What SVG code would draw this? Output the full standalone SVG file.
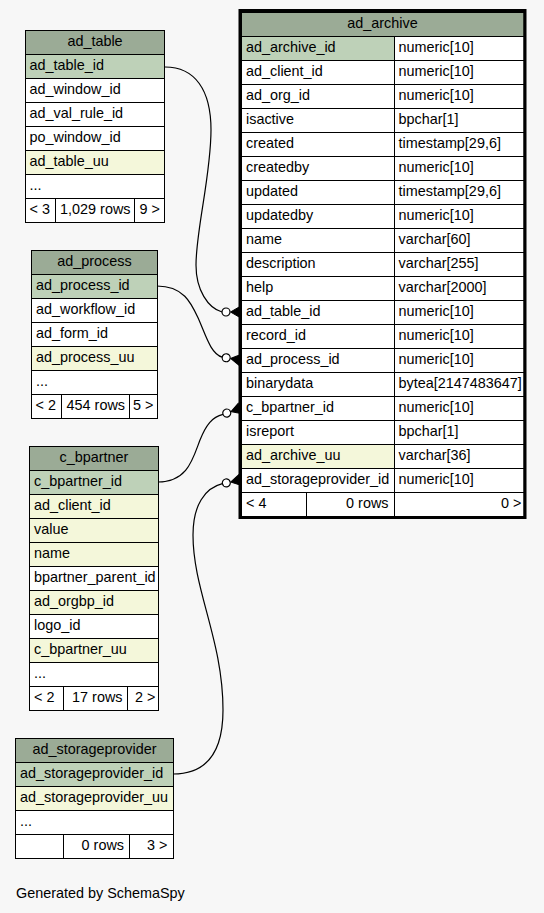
<svg xmlns="http://www.w3.org/2000/svg" xmlns:xlink="http://www.w3.org/1999/xlink" width="544" height="913" viewBox="0 0 544 913">
<defs>
<style>
text{font-family:"Liberation Sans",Arial,sans-serif;font-size:14.4px;fill:#000}
.c{stroke:#000;stroke-width:1}
.h{fill:#9bab96}
.pk{fill:#bed1b8}
.ix{fill:#f4f7da}
.w{fill:#ffffff}
.m{text-anchor:middle}
.e{text-anchor:end}
.edge{fill:none;stroke:#000;stroke-width:1.2}
</style>
<g id="crowodot">
<polygon points="0,-5.5 -9.5,0 0,5.5" fill="#000" stroke="#000" stroke-width="1"/>
<circle cx="-14" cy="0" r="4" fill="#fff" stroke="#000" stroke-width="1.2"/>
</g>
</defs>
<rect width="544" height="913" fill="#f7f7f7"/>

<g id="connectors">
<path class="edge" d="M165,67 C195,67 211,90 211,130 C211,175 196,230 196,265 C196,290 208,308 222,312"/>
<use xlink:href="#crowodot" transform="translate(240,312)"/>
<path class="edge" d="M157,286 C185,286 192,305 199,320 C206,336 211,354 222.2,357.1"/>
<use xlink:href="#crowodot" transform="translate(240,360) rotate(9.3)"/>
<path class="edge" d="M158,482 C188,482 193,458 200,440 C206,425 212,417 223,414.4"/>
<use xlink:href="#crowodot" transform="translate(240,408.5) rotate(-19)"/>
<path class="edge" d="M173,774 C205,774 223,755 223,710 C223,640 193,590 193,535 C193,505 205,488 222.4,483.7"/>
<use xlink:href="#crowodot" transform="translate(240,480) rotate(-12)"/>
</g>

<g id="ad_table">
<rect class="c h" x="25.5" y="30.5" width="139" height="24"/><text class="m" x="95" y="46">ad_table</text>
<rect class="c pk" x="25.5" y="54.5" width="139" height="24"/><text x="29.5" y="70">ad_table_id</text>
<rect class="c w" x="25.5" y="78.5" width="139" height="24"/><text x="29.5" y="94">ad_window_id</text>
<rect class="c w" x="25.5" y="102.5" width="139" height="24"/><text x="29.5" y="118">ad_val_rule_id</text>
<rect class="c w" x="25.5" y="126.5" width="139" height="24"/><text x="29.5" y="142">po_window_id</text>
<rect class="c ix" x="25.5" y="150.5" width="139" height="24"/><text x="29.5" y="166">ad_table_uu</text>
<rect class="c w" x="25.5" y="174.5" width="139" height="24"/><text x="29.5" y="190">...</text>
<rect class="c w" x="25.5" y="198.5" width="30" height="24"/><text x="29.5" y="214">&lt; 3</text>
<rect class="c w" x="55.5" y="198.5" width="79" height="24"/><text class="e" x="130.5" y="214">1,029 rows</text>
<rect class="c w" x="134.5" y="198.5" width="30" height="24"/><text class="e" x="160" y="214">9 &gt;</text>
</g>

<g id="ad_process">
<rect class="c h" x="31.5" y="250.5" width="126" height="24"/><text class="m" x="94.5" y="266">ad_process</text>
<rect class="c pk" x="31.5" y="274.5" width="126" height="24"/><text x="36" y="290">ad_process_id</text>
<rect class="c w" x="31.5" y="298.5" width="126" height="24"/><text x="36" y="314">ad_workflow_id</text>
<rect class="c w" x="31.5" y="322.5" width="126" height="24"/><text x="36" y="338">ad_form_id</text>
<rect class="c ix" x="31.5" y="346.5" width="126" height="24"/><text x="36" y="362">ad_process_uu</text>
<rect class="c w" x="31.5" y="370.5" width="126" height="24"/><text x="36" y="386">...</text>
<rect class="c w" x="31.5" y="394.5" width="30" height="24"/><text x="35.5" y="410">&lt; 2</text>
<rect class="c w" x="61.5" y="394.5" width="68" height="24"/><text class="e" x="125" y="410">454 rows</text>
<rect class="c w" x="129.5" y="394.5" width="28" height="24"/><text class="e" x="153.5" y="410">5 &gt;</text>
</g>

<g id="c_bpartner">
<rect class="c h" x="29.5" y="446.5" width="129" height="24"/><text class="m" x="94" y="462">c_bpartner</text>
<rect class="c pk" x="29.5" y="470.5" width="129" height="24"/><text x="34" y="486">c_bpartner_id</text>
<rect class="c ix" x="29.5" y="494.5" width="129" height="24"/><text x="34" y="510">ad_client_id</text>
<rect class="c ix" x="29.5" y="518.5" width="129" height="24"/><text x="34" y="534">value</text>
<rect class="c ix" x="29.5" y="542.5" width="129" height="24"/><text x="34" y="558">name</text>
<rect class="c w" x="29.5" y="566.5" width="129" height="24"/><text x="34" y="582">bpartner_parent_id</text>
<rect class="c ix" x="29.5" y="590.5" width="129" height="24"/><text x="34" y="606">ad_orgbp_id</text>
<rect class="c w" x="29.5" y="614.5" width="129" height="24"/><text x="34" y="630">logo_id</text>
<rect class="c ix" x="29.5" y="638.5" width="129" height="24"/><text x="34" y="654">c_bpartner_uu</text>
<rect class="c w" x="29.5" y="662.5" width="129" height="24"/><text x="34" y="678">...</text>
<rect class="c w" x="29.5" y="686.5" width="34" height="24"/><text x="34" y="702">&lt; 2</text>
<rect class="c w" x="63.5" y="686.5" width="64" height="24"/><text class="e" x="122.5" y="702">17 rows</text>
<rect class="c w" x="127.5" y="686.5" width="31" height="24"/><text class="e" x="155.5" y="702">2 &gt;</text>
</g>

<g id="ad_storageprovider">
<rect class="c h" x="15.5" y="738.5" width="158" height="24"/><text class="m" x="94.5" y="754">ad_storageprovider</text>
<rect class="c pk" x="15.5" y="762.5" width="158" height="24"/><text x="20" y="778">ad_storageprovider_id</text>
<rect class="c ix" x="15.5" y="786.5" width="158" height="24"/><text x="20" y="802">ad_storageprovider_uu</text>
<rect class="c w" x="15.5" y="810.5" width="158" height="24"/><text x="20" y="826">...</text>
<rect class="c w" x="15.5" y="834.5" width="48" height="24"/>
<rect class="c w" x="63.5" y="834.5" width="66" height="24"/><text class="e" x="124" y="850">0 rows</text>
<rect class="c w" x="129.5" y="834.5" width="44" height="24"/><text class="e" x="167.5" y="850">3 &gt;</text>
</g>

<g id="ad_archive">
<rect class="c h" x="241.5" y="12.5" width="282.5" height="24"/><text class="m" x="382.5" y="28">ad_archive</text>
<rect class="c pk" x="241.5" y="36.5" width="153" height="24"/><text x="246" y="52">ad_archive_id</text>
<rect class="c w" x="394.5" y="36.5" width="129.5" height="24"/><text x="398.5" y="52">numeric[10]</text>
<rect class="c w" x="241.5" y="60.5" width="153" height="24"/><text x="246" y="76">ad_client_id</text>
<rect class="c w" x="394.5" y="60.5" width="129.5" height="24"/><text x="398.5" y="76">numeric[10]</text>
<rect class="c w" x="241.5" y="84.5" width="153" height="24"/><text x="246" y="100">ad_org_id</text>
<rect class="c w" x="394.5" y="84.5" width="129.5" height="24"/><text x="398.5" y="100">numeric[10]</text>
<rect class="c w" x="241.5" y="108.5" width="153" height="24"/><text x="246" y="124">isactive</text>
<rect class="c w" x="394.5" y="108.5" width="129.5" height="24"/><text x="398.5" y="124">bpchar[1]</text>
<rect class="c w" x="241.5" y="132.5" width="153" height="24"/><text x="246" y="148">created</text>
<rect class="c w" x="394.5" y="132.5" width="129.5" height="24"/><text x="398.5" y="148">timestamp[29,6]</text>
<rect class="c w" x="241.5" y="156.5" width="153" height="24"/><text x="246" y="172">createdby</text>
<rect class="c w" x="394.5" y="156.5" width="129.5" height="24"/><text x="398.5" y="172">numeric[10]</text>
<rect class="c w" x="241.5" y="180.5" width="153" height="24"/><text x="246" y="196">updated</text>
<rect class="c w" x="394.5" y="180.5" width="129.5" height="24"/><text x="398.5" y="196">timestamp[29,6]</text>
<rect class="c w" x="241.5" y="204.5" width="153" height="24"/><text x="246" y="220">updatedby</text>
<rect class="c w" x="394.5" y="204.5" width="129.5" height="24"/><text x="398.5" y="220">numeric[10]</text>
<rect class="c w" x="241.5" y="228.5" width="153" height="24"/><text x="246" y="244">name</text>
<rect class="c w" x="394.5" y="228.5" width="129.5" height="24"/><text x="398.5" y="244">varchar[60]</text>
<rect class="c w" x="241.5" y="252.5" width="153" height="24"/><text x="246" y="268">description</text>
<rect class="c w" x="394.5" y="252.5" width="129.5" height="24"/><text x="398.5" y="268">varchar[255]</text>
<rect class="c w" x="241.5" y="276.5" width="153" height="24"/><text x="246" y="292">help</text>
<rect class="c w" x="394.5" y="276.5" width="129.5" height="24"/><text x="398.5" y="292">varchar[2000]</text>
<rect class="c w" x="241.5" y="300.5" width="153" height="24"/><text x="246" y="316">ad_table_id</text>
<rect class="c w" x="394.5" y="300.5" width="129.5" height="24"/><text x="398.5" y="316">numeric[10]</text>
<rect class="c w" x="241.5" y="324.5" width="153" height="24"/><text x="246" y="340">record_id</text>
<rect class="c w" x="394.5" y="324.5" width="129.5" height="24"/><text x="398.5" y="340">numeric[10]</text>
<rect class="c w" x="241.5" y="348.5" width="153" height="24"/><text x="246" y="364">ad_process_id</text>
<rect class="c w" x="394.5" y="348.5" width="129.5" height="24"/><text x="398.5" y="364">numeric[10]</text>
<rect class="c w" x="241.5" y="372.5" width="153" height="24"/><text x="246" y="388">binarydata</text>
<rect class="c w" x="394.5" y="372.5" width="129.5" height="24"/><text x="398.5" y="388">bytea[2147483647]</text>
<rect class="c w" x="241.5" y="396.5" width="153" height="24"/><text x="246" y="412">c_bpartner_id</text>
<rect class="c w" x="394.5" y="396.5" width="129.5" height="24"/><text x="398.5" y="412">numeric[10]</text>
<rect class="c w" x="241.5" y="420.5" width="153" height="24"/><text x="246" y="436">isreport</text>
<rect class="c w" x="394.5" y="420.5" width="129.5" height="24"/><text x="398.5" y="436">bpchar[1]</text>
<rect class="c ix" x="241.5" y="444.5" width="153" height="24"/><text x="246" y="460">ad_archive_uu</text>
<rect class="c w" x="394.5" y="444.5" width="129.5" height="24"/><text x="398.5" y="460">varchar[36]</text>
<rect class="c w" x="241.5" y="468.5" width="153" height="24"/><text x="246" y="484">ad_storageprovider_id</text>
<rect class="c w" x="394.5" y="468.5" width="129.5" height="24"/><text x="398.5" y="484">numeric[10]</text>
<rect class="c w" x="241.5" y="492.5" width="65" height="24"/><text x="246" y="508">&lt; 4</text>
<rect class="c w" x="306.5" y="492.5" width="88" height="24"/><text class="e" x="388.5" y="508">0 rows</text>
<rect class="c w" x="394.5" y="492.5" width="129.5" height="24"/><text class="e" x="521.5" y="508">0 &gt;</text>
<rect x="240" y="10.5" width="285" height="507" fill="none" stroke="#000" stroke-width="3"/>
</g>

<text x="16" y="898">Generated by SchemaSpy</text>
</svg>
